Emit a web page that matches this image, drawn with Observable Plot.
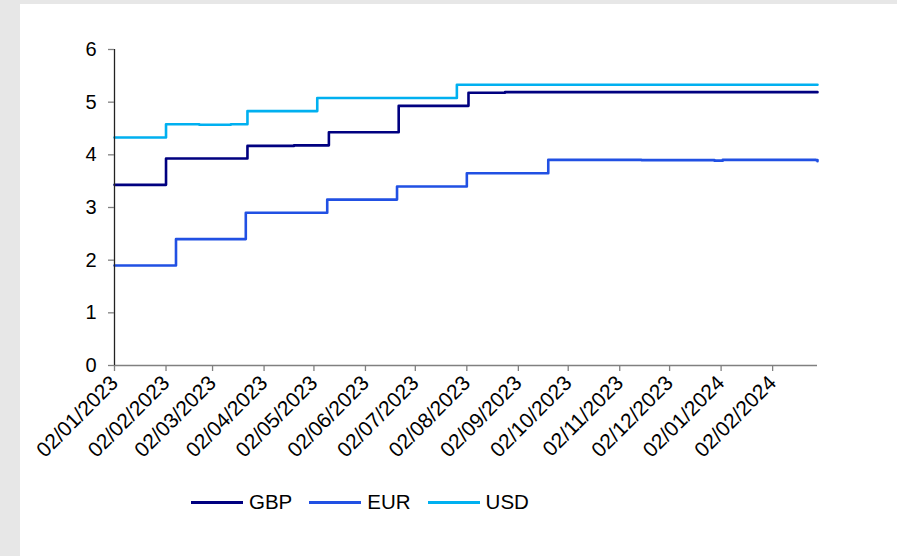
<!DOCTYPE html>
<html>
<head>
<meta charset="utf-8">
<script src="https://cdn.jsdelivr.net/npm/d3@7"></script>
<script src="https://cdn.jsdelivr.net/npm/@observablehq/plot@0.6"></script>
<style>
  html, body { margin: 0; padding: 0; background: #e7e7e7; }
  body { width: 897px; height: 556px; overflow: hidden; position: relative; font-family: "Liberation Sans", Arial, sans-serif; }
  #panel { position: absolute; left: 20px; top: 4px; width: 877px; height: 552px; background: #fff; }
  #chart { position: absolute; left: 0; top: 0; }
  #legend { position: absolute; left: 171px; top: 484px; height: 28px; display: flex; align-items: center; font-size: 20.5px; color: #000; }
  .item { display: flex; align-items: center; margin-right: 17px; }
  .swatch { width: 52px; height: 3px; margin-right: 6px; }
  .xax text { font-size: 21px; }
  .yax text { font-size: 20px; }
</style>
</head>
<body>
<div id="panel">
  <div id="chart"></div>
  <div id="legend"></div>
</div>
<script>
// ---- data ----
const seriesNames = ["GBP", "EUR", "USD"];

const gbpDates  = ["2023-01-02", "2023-02-02", "2023-03-23", "2023-04-20", "2023-05-11", "2023-06-22", "2023-08-03", "2023-08-25", "2024-02-29"];
const gbpValues = [3.43, 3.93, 4.17, 4.18, 4.43, 4.93, 5.18, 5.19, 5.19];

const eurDates  = ["2023-01-02", "2023-02-08", "2023-03-22", "2023-05-10", "2023-06-21", "2023-08-02", "2023-09-20", "2023-11-15", "2023-12-29", "2024-01-03", "2024-02-28", "2024-02-29"];
const eurValues = [1.90, 2.40, 2.90, 3.15, 3.40, 3.65, 3.905, 3.90, 3.89, 3.905, 3.90, 3.88];

const usdDates  = ["2023-01-02", "2023-02-02", "2023-02-22", "2023-03-13", "2023-03-23", "2023-05-04", "2023-07-27", "2024-02-29"];
const usdValues = [4.33, 4.58, 4.57, 4.58, 4.83, 5.08, 5.33, 5.33];

const xDomain   = ["2023-01-02", "2024-02-29"];
const tickDates = ["2023-01-02", "2023-02-02", "2023-03-02", "2023-04-02", "2023-05-02", "2023-06-02",
                   "2023-07-02", "2023-08-02", "2023-09-02", "2023-10-02", "2023-11-02", "2023-12-02",
                   "2024-01-02", "2024-02-02"];
const yTicks = [0, 1, 2, 3, 4, 5, 6];

const seriesColors = ["#000080", "#2150e3", "#00b0f0"];

// ---- build table ----
const parse = d3.utcParse("%Y-%m-%d");
const rows = [];
[[gbpDates, gbpValues], [eurDates, eurValues], [usdDates, usdValues]].forEach(([ds, vs], i) => {
  ds.forEach((d, j) => rows.push({series: seriesNames[i], date: parse(d), value: vs[j]}));
});

const chart = Plot.plot({
  width: 877,
  height: 470,
  marginLeft: 94,
  marginTop: 45,
  marginRight: 80,
  marginBottom: 109,
  style: {fontFamily: "'Liberation Sans', Arial, sans-serif", fontSize: "20px", color: "#000", background: "transparent", overflow: "visible"},
  x: {type: "utc", domain: xDomain.map(parse)},
  y: {domain: [0, 6]},
  color: {domain: seriesNames, range: seriesColors},
  marks: [
    Plot.ruleY([0], {stroke: "#808080", strokeWidth: 1.3}),
    Plot.lineY(rows, {x: "date", y: "value", z: "series", stroke: "series", strokeWidth: 2.6, curve: "step-after"}),
    Plot.ruleX([parse(xDomain[0])], {stroke: "#222", strokeWidth: 1.3}),
    Plot.axisY({ticks: yTicks, tickSize: 6, tickPadding: 12, stroke: "#808080", strokeWidth: 1.3, label: null, tickFormat: d => String(d), className: "yax"}),
    Plot.axisX({ticks: tickDates.map(parse), tickFormat: d3.utcFormat("%d/%m/%Y"), tickRotate: -45, tickSize: 6, tickPadding: 8, stroke: "#808080", strokeWidth: 1.3, label: null, className: "xax"})
  ]
});
document.getElementById("chart").appendChild(chart);

// ---- legend ----
const legend = document.getElementById("legend");
seriesNames.forEach((name, i) => {
  const item = document.createElement("div");
  item.className = "item";
  const sw = document.createElement("div");
  sw.className = "swatch";
  sw.style.background = seriesColors[i];
  const label = document.createElement("span");
  label.textContent = name;
  item.appendChild(sw);
  item.appendChild(label);
  legend.appendChild(item);
});
</script>
</body>
</html>
